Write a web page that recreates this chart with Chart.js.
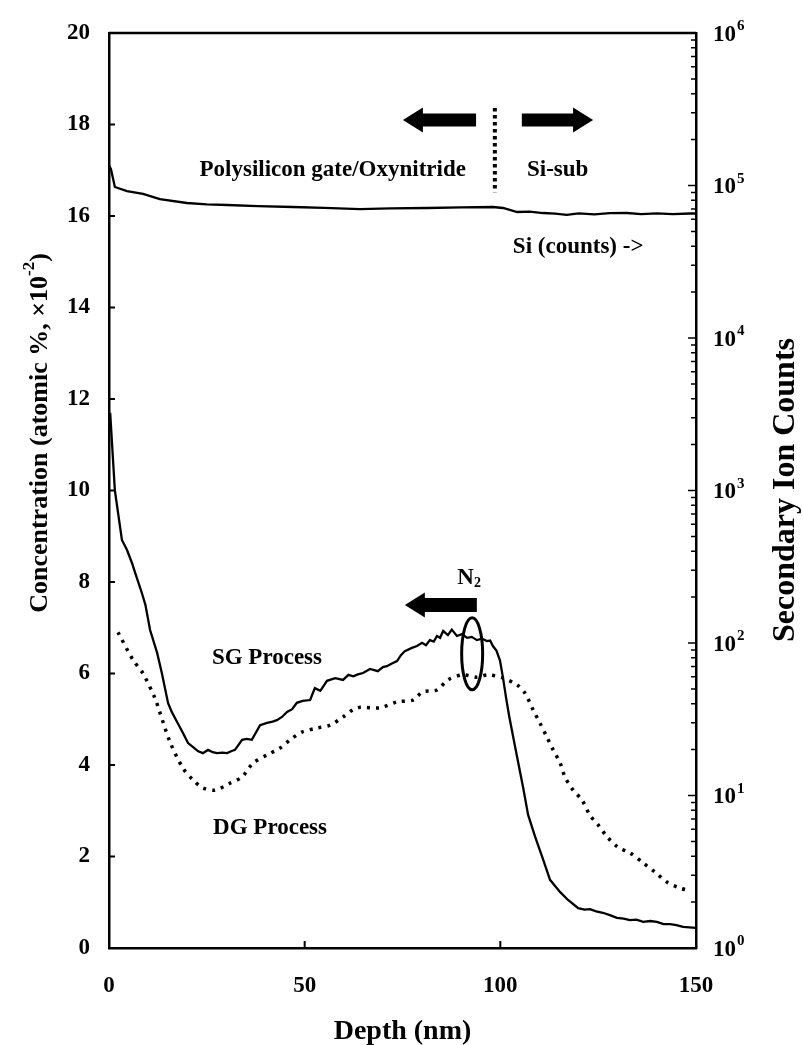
<!DOCTYPE html>
<html>
<head>
<meta charset="utf-8">
<script src="https://cdn.jsdelivr.net/npm/chart.js@4.4.1/dist/chart.umd.min.js"></script>
<style>
  html, body { margin: 0; padding: 0; background: #fff; }
  #wrap { width: 803px; height: 1045px; }
</style>
</head>
<body>
<div id="wrap"><canvas id="chart" width="803" height="1045"></canvas></div>
<script>
// depth axis (nm) and the two concentration profiles (atomic %, x10^-2)
const depthTicks = [0, 50, 100, 150];
const concTicks = [0, 2, 4, 6, 8, 10, 12, 14, 16, 18, 20];
const countDecades = [0, 1, 2, 3, 4, 5, 6];

const sgDepth = [0.3, 1.5, 3.3, 4.6, 5.9, 6.6, 8.4, 9.3, 10.5, 12.3, 13.5, 15.1, 16.1, 17.4, 18.9,
  20.2, 21.5, 22.8, 24.0, 25.3, 26.5, 27.6, 29.0, 30.2, 31.2, 32.2, 34.0, 35.2, 36.5, 38.6,
  40.4, 41.8, 42.9, 44.2, 45.5, 46.8, 48.0, 49.5, 51.4, 52.6, 54.0, 55.7, 57.8, 59.8, 61.2,
  62.4, 63.6, 64.9, 66.7, 68.7, 70.0, 71.0, 72.3, 73.6, 74.6, 75.6, 77.4, 78.7, 80.0, 81.0,
  82.0, 83.0, 83.8, 84.6, 85.4, 86.6, 87.6, 88.9, 90.2, 91.5, 92.7, 94.0, 95.3, 96.6, 97.4,
  98.1, 99.0, 99.9, 100.7, 101.5, 102.3, 103.2, 104.3, 105.8, 107.1, 108.9, 110.7, 112.7,
  115.3, 117.3, 119.9, 121.5, 122.9, 124.5, 126.2, 128.0, 129.8, 131.5, 133.1, 134.8, 136.5,
  138.3, 140.0, 141.7, 143.4, 145.0, 146.7, 148.3, 150.0];
const sgConc = [11.7, 10.0, 8.92, 8.70, 8.41, 8.22, 7.76, 7.5, 6.95, 6.45, 6.01, 5.35, 5.15, 4.94, 4.70,
  4.48, 4.39, 4.30, 4.26, 4.33, 4.28, 4.26, 4.27, 4.26, 4.30, 4.33, 4.55, 4.57, 4.55, 4.87,
  4.92, 4.95, 4.98, 5.05, 5.16, 5.22, 5.36, 5.40, 5.42, 5.68, 5.62, 5.84, 5.90, 5.86, 5.97,
  5.94, 5.98, 6.01, 6.10, 6.05, 6.14, 6.16, 6.22, 6.27, 6.40, 6.49, 6.56, 6.60, 6.67, 6.62,
  6.73, 6.70, 6.82, 6.78, 6.93, 6.84, 6.96, 6.82, 6.86, 6.78, 6.80, 6.73, 6.76, 6.71, 6.72,
  6.60, 6.50, 6.29, 5.90, 5.45, 5.05, 4.65, 4.17, 3.52, 2.91, 2.43, 1.99, 1.49,
  1.22, 1.05, 0.87, 0.84, 0.85, 0.80, 0.77, 0.72, 0.66, 0.64, 0.61, 0.62, 0.57,
  0.59, 0.57, 0.52, 0.52, 0.50, 0.46, 0.45, 0.44];

const dgDepth = [2.3, 6.1, 8.7, 11.8, 12.8, 15.6, 18.9, 21.5, 24.0, 27.1, 30.9, 34.0, 36.8, 40.4,
  43.7, 46.3, 49.3, 53.2, 56.5, 59.8, 63.4, 69.3, 73.6, 77.7, 80.2, 83.8, 86.6, 90.2, 94.0,
  96.9, 100.7, 104.3, 106.3, 108.4, 110.1, 111.9, 113.5, 115.3, 116.5, 118.6, 120.9, 122.9,
  125.0, 127.3, 130.1, 133.1, 136.5, 139.5, 142.6, 145.9, 148.5];
const dgConc = [6.9, 6.3, 6.0, 5.45, 5.2, 4.5, 3.93, 3.67, 3.50, 3.45, 3.60, 3.74, 4.04, 4.22,
  4.37, 4.55, 4.72, 4.81, 4.87, 5.05, 5.25, 5.25, 5.38, 5.42, 5.60, 5.64, 5.86, 5.97, 5.92,
  5.97, 5.90, 5.75, 5.57, 5.20, 4.92, 4.61, 4.33, 4.04, 3.74, 3.45, 3.23, 2.90,
  2.69, 2.43, 2.20, 2.08, 1.86, 1.66, 1.44, 1.31, 1.25];

// Si secondary ion counts (right, log axis)
const siDepth = [0, 0.5, 1.5, 4.6, 8.7, 13.0, 19.9, 25.0, 30.2, 38.0, 47.0, 55.0, 64.1, 72.0, 81.3,
  90.0, 98.1, 100.7, 104.3, 107.5, 110.9, 114.0, 117.0, 120.0, 124.0, 128.0, 132.4, 136.0,
  140.0, 144.0, 148.5, 150.0];
const siCounts = [136000, 128000, 97800, 92000, 88000, 81500, 76800, 75200, 74500, 73200, 72300,
  71300, 70100, 70900, 71200, 71800, 72300, 71200, 67000, 67500, 66000, 65400, 64100, 65600,
  64600, 65800, 66000, 65000, 65700, 64900, 65500, 65500];

const FONT = '"Liberation Serif", "Times New Roman", serif';

function pts(xs, ys) {
  return xs.map((x, i) => ({ x: x, y: ys[i] }));
}

function arrow(ctx, tail, tip, y, shaft, headH, headL) {
  const dir = Math.sign(tip - tail);
  const hb = tip - dir * headL;
  ctx.beginPath();
  ctx.moveTo(tail, y - shaft / 2);
  ctx.lineTo(hb, y - shaft / 2);
  ctx.lineTo(hb, y - headH / 2);
  ctx.lineTo(tip, y);
  ctx.lineTo(hb, y + headH / 2);
  ctx.lineTo(hb, y + shaft / 2);
  ctx.lineTo(tail, y + shaft / 2);
  ctx.closePath();
  ctx.fill();
}

const decorations = {
  id: "decorations",
  afterDraw(chart) {
    const ctx = chart.ctx;
    const a = chart.chartArea;
    const xs = chart.scales.x, ys = chart.scales.y, y2 = chart.scales.y2;
    const X = v => xs.getPixelForValue(v);
    const Y = v => ys.getPixelForValue(v);

    ctx.save();
    ctx.strokeStyle = "#000";
    ctx.fillStyle = "#000";

    // top frame line
    ctx.lineWidth = 2.5;
    ctx.beginPath();
    ctx.moveTo(a.left, a.top);
    ctx.lineTo(a.right, a.top);
    ctx.stroke();

    // inward tick marks
    ctx.lineWidth = 2;
    ctx.beginPath();
    concTicks.forEach(v => {
      const y = Y(v);
      ctx.moveTo(a.left, y);
      ctx.lineTo(a.left + 6, y);
    });
    depthTicks.forEach(v => {
      const x = X(v);
      ctx.moveTo(x, a.bottom);
      ctx.lineTo(x, a.bottom - 7);
    });
    ctx.stroke();
    ctx.lineWidth = 1.5;
    ctx.beginPath();
    for (let k = 0; k < 6; k++) {
      for (let m = 1; m <= 9; m++) {
        const y = y2.getPixelForValue(m * Math.pow(10, k));
        ctx.moveTo(a.right, y);
        ctx.lineTo(a.right - (m === 1 ? 8 : 5), y);
      }
    }
    ctx.stroke();

    // right tick labels 10^n
    countDecades.forEach(k => {
      const y = y2.getPixelForValue(Math.pow(10, k));
      ctx.font = "bold 23px " + FONT;
      ctx.textAlign = "left";
      ctx.textBaseline = "alphabetic";
      ctx.fillText("10", 713, y + 7.5);
      const w = ctx.measureText("10").width;
      ctx.font = "bold 15px " + FONT;
      ctx.fillText(String(k), 713 + w + 1, y - 3);
    });

    // axis titles
    ctx.font = "bold 28px " + FONT;
    ctx.textAlign = "center";
    ctx.textBaseline = "alphabetic";
    ctx.fillText("Depth (nm)", (a.left + a.right) / 2, 1039);

    // left title with superscript
    ctx.save();
    ctx.translate(40, 433);
    ctx.rotate(-Math.PI / 2);
    const big = "bold 26px " + FONT, small = "bold 17px " + FONT;
    const parts = [["Concentration (atomic %, \u00d710", big, 0], ["-2", small, -10], [")", big, 0]];
    let total = 0;
    parts.forEach(p => { ctx.font = p[1]; total += ctx.measureText(p[0]).width; });
    let cx = -total / 2;
    ctx.textAlign = "left";
    ctx.textBaseline = "middle";
    parts.forEach(p => {
      ctx.font = p[1];
      ctx.fillText(p[0], cx, p[2]);
      cx += ctx.measureText(p[0]).width;
    });
    ctx.restore();

    // right title
    ctx.save();
    ctx.translate(786, 490);
    ctx.rotate(-Math.PI / 2);
    ctx.font = "bold 32px " + FONT;
    ctx.textAlign = "center";
    ctx.textBaseline = "middle";
    ctx.fillText("Secondary Ion Counts", 0, 0);
    ctx.restore();

    // region labels, arrows and divider
    ctx.font = "bold 23px " + FONT;
    ctx.textBaseline = "middle";
    ctx.textAlign = "right";
    ctx.fillText("Polysilicon gate/Oxynitride", X(91.2), Y(17.0));
    ctx.textAlign = "left";
    ctx.fillText("Si-sub", X(106.8), Y(17.0));
    ctx.fillText("Si (counts) ->", X(103.2), Y(15.32));
    ctx.fillText("SG Process", X(26.3), Y(6.34));
    ctx.fillText("DG Process", X(26.6), Y(2.62));

    arrow(ctx, X(93.8), X(75.1), Y(18.1), 13, 25, 20);
    arrow(ctx, X(105.5), X(123.7), Y(18.1), 13, 25, 20);
    arrow(ctx, X(94.0), X(75.6), Y(7.5), 14, 25, 20);

    ctx.save();
    ctx.lineWidth = 4;
    ctx.setLineDash([3.5, 3.5]);
    ctx.beginPath();
    ctx.moveTo(X(98.6), Y(18.36));
    ctx.lineTo(X(98.6), Y(16.52));
    ctx.stroke();
    ctx.restore();

    // N2 label and ellipse
    ctx.font = "bold 23px " + FONT;
    ctx.textAlign = "left";
    ctx.textBaseline = "alphabetic";
    const nx = X(89.0), ny = Y(7.95);
    ctx.fillText("N", nx, ny);
    const nw = ctx.measureText("N").width;
    ctx.font = "bold 14px " + FONT;
    ctx.fillText("2", nx + nw, ny + 3);

    ctx.lineWidth = 3;
    ctx.beginPath();
    ctx.ellipse(X(92.8), Y(6.43), 10.5, 36, 0, 0, Math.PI * 2);
    ctx.stroke();

    ctx.restore();
  }
};

const borderOpts = { display: true, color: "#000", width: 2.5 };
const tickFont = { family: FONT, size: 23, weight: "bold" };

new Chart(document.getElementById("chart"), {
  type: "line",
  data: {
    datasets: [
      {
        label: "SG Process",
        data: pts(sgDepth, sgConc),
        yAxisID: "y",
        borderColor: "#000",
        borderWidth: 2.3,
        pointRadius: 0,
        tension: 0
      },
      {
        label: "DG Process",
        data: pts(dgDepth, dgConc),
        yAxisID: "y",
        borderColor: "#000",
        borderWidth: 3.5,
        borderDash: [3, 6],
        pointRadius: 0,
        tension: 0.3
      },
      {
        label: "Si (counts)",
        data: pts(siDepth, siCounts),
        yAxisID: "y2",
        borderColor: "#000",
        borderWidth: 2.3,
        pointRadius: 0,
        tension: 0
      }
    ]
  },
  options: {
    responsive: false,
    animation: false,
    layout: { padding: { top: 33, left: 0, right: 0, bottom: 0 } },
    plugins: {
      legend: { display: false },
      tooltip: { enabled: false }
    },
    scales: {
      x: {
        type: "linear",
        min: 0,
        max: 150,
        grid: { display: false, drawTicks: false },
        border: borderOpts,
        afterBuildTicks: s => { s.ticks = depthTicks.map(v => ({ value: v })); },
        ticks: { color: "#000", font: tickFont, padding: 24, maxRotation: 0 },
        afterFit: s => { s.height = 97; }
      },
      y: {
        type: "linear",
        position: "left",
        min: 0,
        max: 20,
        grid: { display: false, drawTicks: false },
        border: borderOpts,
        afterBuildTicks: s => { s.ticks = concTicks.map(v => ({ value: v })); },
        ticks: { color: "#000", font: tickFont, padding: 19 },
        afterFit: s => { s.width = 109; }
      },
      y2: {
        type: "logarithmic",
        position: "right",
        min: 1,
        max: 1000000,
        grid: { display: false, drawTicks: false },
        border: borderOpts,
        ticks: { display: false },
        afterFit: s => { s.width = 107; }
      }
    }
  },
  plugins: [decorations]
});
</script>
</body>
</html>
